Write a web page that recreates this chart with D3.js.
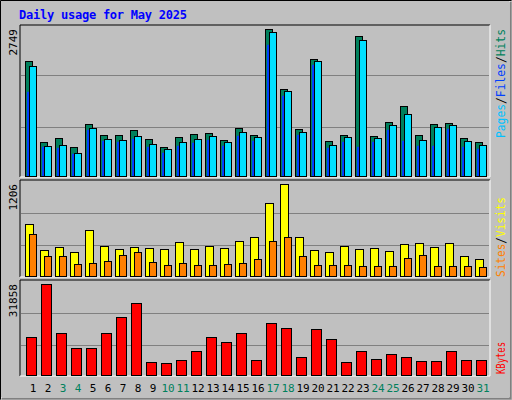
<!DOCTYPE html>
<html><head><meta charset="utf-8">
<script src="https://cdn.jsdelivr.net/npm/d3@7"></script>
<style>body{margin:0;background:#fff}</style>
</head><body><div id="chart"></div>
<script>
var days = d3.range(1, 32);
var weekend = [3, 4, 10, 11, 17, 18, 24, 25, 31];
var hits = [2154,640,714,546,976,770,770,864,696,546,733,789,808,677,901,770,2749,1631,883,2192,658,770,2622,752,1014,1313,770,976,995,714,640];
var files = [2061,565,583,434,901,696,677,752,602,509,640,696,752,640,827,733,2697,1593,827,2154,583,733,2547,714,957,1163,677,920,957,658,583];
var pages = [1575,546,527,415,864,658,640,696,546,434,565,621,677,565,752,658,2454,1500,770,2079,527,640,546,640,864,658,565,565,883,546,509];
var visits = [684,344,383,318,605,396,357,383,370,357,448,357,396,370,461,514,958,1206,514,344,318,396,357,370,331,422,435,383,435,266,226];
var sites = [553,266,266,161,174,200,279,318,187,148,174,148,148,161,174,226,461,514,266,148,148,148,135,135,135,239,279,135,135,135,122];
var kbytes = [13371,31858,14766,9534,9534,14766,20347,25231,4651,4302,5348,8488,13371,11627,14766,5348,18254,16510,6395,16162,12673,4651,8488,5697,7441,6395,5000,5000,8488,5348,5348];

var W = 512, H = 400;
var svg = d3.select('#chart').append('svg').attr('width', W).attr('height', H)
  .style('font-family', "'DejaVu Sans Mono', monospace");

// frame
svg.append('rect').attr('width', W).attr('height', H).attr('fill', '#c0c0c0');
svg.append('path').attr('d', 'M0.5,399.5V0.5H511.5').attr('stroke', '#000').attr('fill', 'none');
svg.append('path').attr('d', 'M1.5,397.5H509.5V1.5').attr('stroke', '#fff').attr('fill', 'none');
svg.append('path').attr('d', 'M2,398.5H511.5M510.5,2V399').attr('stroke', '#808080').attr('stroke-width', 2).attr('fill', 'none');

svg.append('text').attr('x', 19).attr('y', 19).attr('fill', '#0000ff')
  .attr('font-size', 12).attr('font-weight', 'bold')
  .attr('textLength', 168).text('Daily usage for May 2025');

var x = d3.scaleBand().domain(days).range([25, 25 + 31 * 15]);
var left = 20, right = 490;

function panel(top, base, maxV, label, legend, lgStart, lgLen) {
  var y = d3.scaleLinear().domain([0, maxV]).range([base, top + 4]);
  svg.append('path').attr('d', 'M' + left + ',' + (base + 1) + 'V' + top + 'H' + right)
    .attr('stroke', '#000').attr('fill', 'none');
  svg.append('path').attr('d', 'M' + right + ',' + top + 'V' + (base + 1) + 'H' + left)
    .attr('stroke', '#fff').attr('fill', 'none');
  svg.selectAll(null).data([0.335, 0.685]).enter().append('line')
    .attr('x1', left + 1).attr('x2', right - 1)
    .attr('y1', function(f) { return Math.round(y(maxV * f)) + 0.5; })
    .attr('y2', function(f) { return Math.round(y(maxV * f)) + 0.5; })
    .attr('stroke', '#808080').attr('stroke-width', 1);
  svg.append('text').attr('transform', 'translate(17,' + (top + 4) + ') rotate(-90)')
    .attr('text-anchor', 'end').attr('font-size', 11).text(label);
  var lg = svg.append('text').attr('transform', 'translate(495,' + lgStart + ') rotate(-90)')
    .attr('font-size', 12).attr('dy', '0.8em')
    .attr('textLength', lgLen).attr('lengthAdjust', 'spacingAndGlyphs');
  legend.forEach(function(l, i) {
    if (i > 0) lg.append('tspan').attr('fill', '#000').text('/');
    lg.append('tspan').attr('fill', l[1]).text(l[0]);
  });
  return y;
}

function bars(y, vals, off, w, color, base) {
  svg.selectAll(null).data(vals).enter().append('rect')
    .attr('x', function(d, i) { return x(days[i]) + off + 0.5; })
    .attr('y', function(d) { return Math.round(y(d)) + 0.5; })
    .attr('width', w)
    .attr('height', function(d) { return base - Math.round(y(d)); })
    .attr('fill', color).attr('stroke', '#000');
}

var y1 = panel(25, 176, 2749, '2749', [['Pages', '#00c0ff'], ['Files', '#0040ff'], ['Hits', '#00805c']], 138, 109);
bars(y1, hits, 0, 7, '#00805c', 176);
bars(y1, files, 4, 7, '#00e0ff', 176);
svg.selectAll(null).data(pages).enter().append('rect')
  .attr('x', function(d, i) { return x(days[i]) + 2; })
  .attr('y', function(d) { return y1(d); })
  .attr('width', 2)
  .attr('height', function(d) { return 176 - y1(d); })
  .attr('fill', '#0040ff');

var y2 = panel(180, 276, 1206, '1206', [['Sites', '#ff8000'], ['Visits', '#ffff00']], 277, 80);
bars(y2, visits, 0, 8, '#ffff00', 276);
bars(y2, sites, 4, 7, '#ff8000', 276);

var y3 = panel(280, 375, 31858, '31858', [['KBytes', '#ff0000']], 374, 32);
bars(y3, kbytes, 1, 10, '#ff0000', 375);

svg.selectAll(null).data(days).enter().append('text')
  .attr('x', function(d) { return x(d) + 8; })
  .attr('y', 392).attr('text-anchor', 'middle').attr('font-size', 11)
  .attr('fill', function(d) { return weekend.indexOf(d) >= 0 ? '#00805c' : '#000'; })
  .text(function(d) { return d; });
</script></body></html>
